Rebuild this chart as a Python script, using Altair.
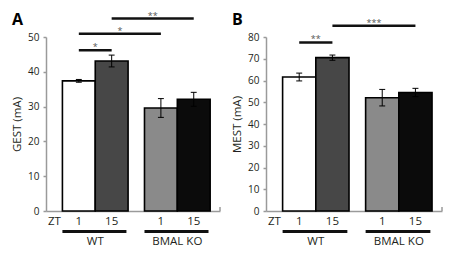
import altair as alt
import pandas as pd

# ---- data -------------------------------------------------------------
group_names = ["WT", "BMAL KO"]
zt_levels = ["1", "15"]
groups = ["WT", "WT", "BMAL KO", "BMAL KO"]
zt = ["1", "15", "1", "15"]
bar_fills = ["#ffffff", "#474747", "#8a8a8a", "#0b0b0b"]

gest = [37.4, 43.1, 29.6, 32.1]
gest_err = [0.4, 1.7, 2.7, 2.0]
mest = [61.6, 70.5, 52.1, 54.5]
mest_err = [1.8, 1.2, 3.8, 1.9]

gest_sig_from = [0, 0, 1]
gest_sig_to = [1, 2, 3]
gest_sig_label = ["*", "*", "**"]
gest_sig_level = [46.2, 50.9, 55.3]

mest_sig_from = [0, 1]
mest_sig_to = [1, 3]
mest_sig_label = ["**", "***"]
mest_sig_level = [77.5, 85.2]

# ---- style ------------------------------------------------------------
FONT = "Open Sans"
TXT = "#231f20"
AXIS_GREY = "#9a9a9a"
H = 174
XMAX = 5.3

pos = [1 + zt_levels.index(z) + 2.5 * group_names.index(g) for g, z in zip(groups, zt)]


def panel(vals, errs, ymax, ystep, ytitle, s_from, s_to, s_lab, s_lvl, letter, W):
    xs = alt.Scale(domain=[0, XMAX], nice=False, zero=False)
    ys = alt.Scale(domain=[0, ymax], nice=False, zero=True)
    xaxis = alt.Axis(title=None, labels=False, ticks=False, grid=False,
                     domainColor=AXIS_GREY, domainWidth=1.5)
    yaxis = alt.Axis(title=ytitle, values=list(range(0, ymax + 1, ystep)), grid=False,
                     domainColor=AXIS_GREY, domainWidth=1.5, tickColor=AXIS_GREY,
                     tickWidth=1.5, tickSize=3, labelFont=FONT, labelFontSize=10,
                     labelColor=TXT, labelPadding=4, titleFont=FONT, titleFontSize=11.5,
                     titleFontWeight="normal", titleColor=TXT, titlePadding=5)

    def X(f, **kw):
        return alt.X(f, scale=xs, axis=xaxis, **kw)

    def Y(f, **kw):
        return alt.Y(f, scale=ys, axis=yaxis, **kw)

    df = pd.DataFrame({
        "pos": pos,
        "left": [p - 0.5 for p in pos],
        "right": [p + 0.5 for p in pos],
        "cl": [p - 0.09 for p in pos],
        "cr": [p + 0.09 for p in pos],
        "v": vals,
        "lo": [v - e for v, e in zip(vals, errs)],
        "hi": [v + e for v, e in zip(vals, errs)],
        "fill": bar_fills,
        "zt": zt,
        "group": groups,
    })

    bars = alt.Chart(df).mark_rect(stroke="black", strokeWidth=1.6).encode(
        x=X("left:Q"), x2="right:Q", y=Y("v:Q"), y2=alt.datum(0),
        fill=alt.Fill("fill:N", scale=None))

    err = alt.Chart(df).mark_rule(color="black", strokeWidth=1).encode(
        x=X("pos:Q"), y=Y("lo:Q"), y2="hi:Q")
    cap_hi = alt.Chart(df).mark_rule(color="black", strokeWidth=1).encode(
        x=X("cl:Q"), x2="cr:Q", y=Y("hi:Q"))
    cap_lo = alt.Chart(df).mark_rule(color="black", strokeWidth=1).encode(
        x=X("cl:Q"), x2="cr:Q", y=Y("lo:Q"))

    end_tick = alt.Chart(df.head(1)).mark_rule(color=AXIS_GREY, strokeWidth=1.5).encode(
        x=alt.X(datum=XMAX, scale=xs, axis=xaxis), y=alt.value(H), y2=alt.value(H - 4))

    zt_text = alt.Chart(df).mark_text(font=FONT, fontSize=11.5, color=TXT, baseline="alphabetic").encode(
        x=X("pos:Q"), y=alt.value(H + 14), text="zt:N")
    zt_head = alt.Chart(pd.DataFrame({"t": ["ZT"]})).mark_text(
        font=FONT, fontSize=11.5, color=TXT, align="left", baseline="alphabetic").encode(
        x=alt.value(2), y=alt.value(H + 14), text="t:N")

    gdf = pd.DataFrame({
        "group": group_names,
        "start": [min(p for p, g in zip(pos, groups) if g == gn) - 0.5 for gn in group_names],
        "end": [max(p for p, g in zip(pos, groups) if g == gn) + 0.45 for gn in group_names],
        "mid": [sum(p for p, g in zip(pos, groups) if g == gn) / 2 for gn in group_names],
    })
    gbar = alt.Chart(gdf).mark_rect(color="#111111").encode(
        x=X("start:Q"), x2="end:Q", y=alt.value(H + 19), y2=alt.value(H + 22))
    gtext = alt.Chart(gdf).mark_text(font=FONT, fontSize=11.5, color=TXT, baseline="alphabetic").encode(
        x=X("mid:Q"), y=alt.value(H + 34), text="group:N")

    sdf = pd.DataFrame({
        "a": [pos[i] for i in s_from],
        "b": [pos[i] for i in s_to],
        "mid": [(pos[i] + pos[j]) / 2 for i, j in zip(s_from, s_to)],
        "lvl": s_lvl,
        "lab": s_lab,
    })
    srule = alt.Chart(sdf).mark_rule(color="#111111", strokeWidth=2.5).encode(
        x=X("a:Q"), x2="b:Q", y=Y("lvl:Q"))
    stext = alt.Chart(sdf).mark_text(font=FONT, fontSize=9, color="#555555", baseline="alphabetic").encode(
        x=X("mid:Q"), y=Y("lvl:Q"), text="lab:N")

    ltext = alt.Chart(pd.DataFrame({"t": [letter]})).mark_text(
        font=FONT, fontSize=16, fontWeight="bold", color="black", align="left",
        baseline="alphabetic").encode(x=alt.value(-34), y=alt.value(-12), text="t:N")

    return alt.layer(bars, err, cap_hi, cap_lo, end_tick, zt_text, zt_head, gbar, gtext,
                     srule, stext, ltext).properties(width=W, height=H)


pA = panel(gest, gest_err, 50, 10, "GEST (mA)", gest_sig_from, gest_sig_to,
           gest_sig_label, gest_sig_level, "A", 174)
pB = panel(mest, mest_err, 80, 10, "MEST (mA)", mest_sig_from, mest_sig_to,
           mest_sig_label, mest_sig_level, "B", 176)

chart = alt.hconcat(pA, pB, spacing=10).configure_view(strokeWidth=0).properties(
    padding={"left": 3, "top": 3, "right": 0, "bottom": 0})

chart.save("out.html", embed_options={"renderer": "svg", "actions": False})
